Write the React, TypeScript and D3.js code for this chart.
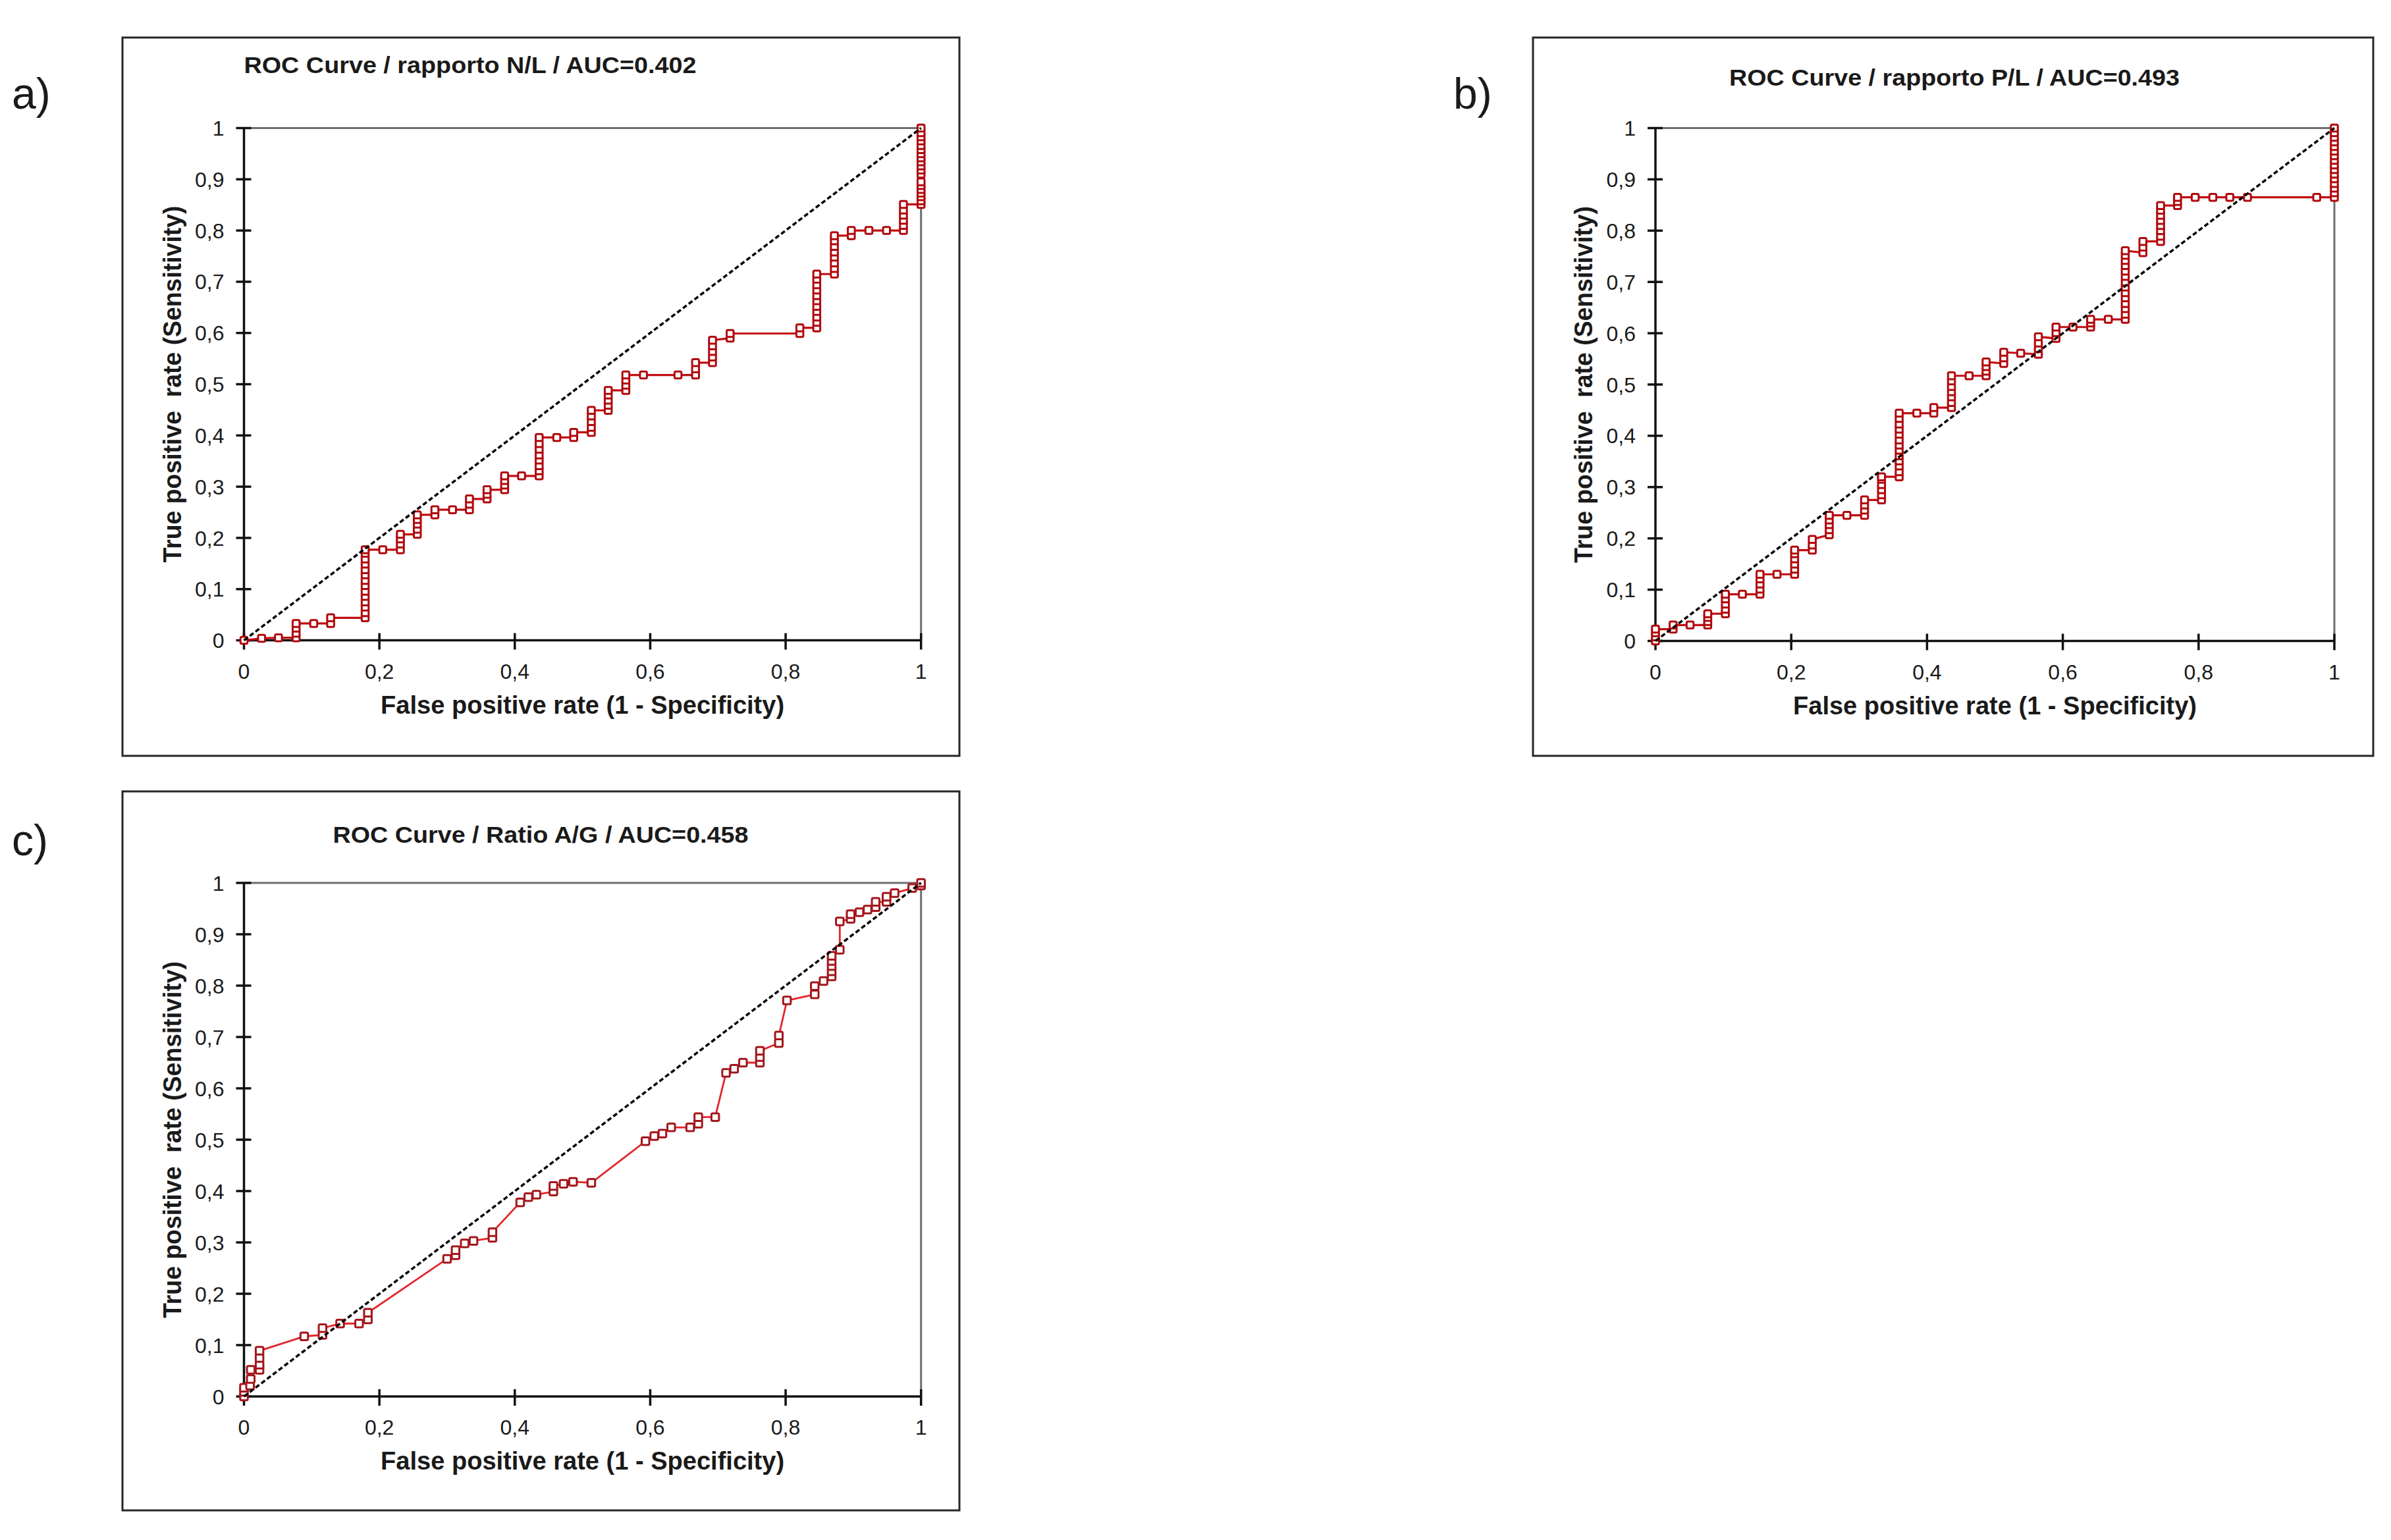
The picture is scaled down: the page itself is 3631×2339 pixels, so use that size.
import * as d3 from 'd3';

// ROC points: [false positive rate, true positive rate]
const rocNL: [number, number][] = [
  [0, 0], [0.026, 0.004], [0.051, 0.005],
  [0.077, 0.005], [0.077, 0.014], [0.077, 0.024], [0.077, 0.033],
  [0.103, 0.033],
  [0.128, 0.033], [0.128, 0.044],
  [0.179, 0.044], [0.179, 0.054], [0.179, 0.065], [0.179, 0.075], [0.179, 0.086], [0.179, 0.096], [0.179, 0.107],
  [0.179, 0.117], [0.179, 0.128], [0.179, 0.138], [0.179, 0.149], [0.179, 0.159], [0.179, 0.17], [0.179, 0.177],
  [0.205, 0.177],
  [0.231, 0.177], [0.231, 0.188], [0.231, 0.198], [0.231, 0.207],
  [0.256, 0.207], [0.256, 0.217], [0.256, 0.227], [0.256, 0.236], [0.256, 0.245],
  [0.282, 0.245], [0.282, 0.255],
  [0.308, 0.255],
  [0.333, 0.255], [0.333, 0.266], [0.333, 0.276],
  [0.359, 0.276], [0.359, 0.285], [0.359, 0.294],
  [0.385, 0.294], [0.385, 0.303], [0.385, 0.312], [0.385, 0.321],
  [0.41, 0.321],
  [0.436, 0.321], [0.436, 0.331], [0.436, 0.341], [0.436, 0.352], [0.436, 0.362], [0.436, 0.373], [0.436, 0.384], [0.436, 0.396],
  [0.462, 0.396],
  [0.487, 0.396], [0.487, 0.406],
  [0.513, 0.406], [0.513, 0.416], [0.513, 0.427], [0.513, 0.438], [0.513, 0.449],
  [0.538, 0.449], [0.538, 0.459], [0.538, 0.469], [0.538, 0.479], [0.538, 0.488],
  [0.564, 0.488], [0.564, 0.498], [0.564, 0.508], [0.564, 0.518],
  [0.59, 0.518],
  [0.641, 0.518],
  [0.667, 0.518], [0.667, 0.53], [0.667, 0.542],
  [0.692, 0.542], [0.692, 0.553], [0.692, 0.564], [0.692, 0.575], [0.692, 0.586],
  [0.718, 0.59], [0.718, 0.599],
  [0.821, 0.599], [0.821, 0.61],
  [0.846, 0.61], [0.846, 0.621], [0.846, 0.631], [0.846, 0.642], [0.846, 0.652], [0.846, 0.663], [0.846, 0.673],
  [0.846, 0.684], [0.846, 0.694], [0.846, 0.705], [0.846, 0.715],
  [0.872, 0.715], [0.872, 0.726], [0.872, 0.737], [0.872, 0.748], [0.872, 0.758], [0.872, 0.769], [0.872, 0.78], [0.872, 0.79],
  [0.897, 0.79], [0.897, 0.8],
  [0.923, 0.8],
  [0.949, 0.8],
  [0.974, 0.8], [0.974, 0.81], [0.974, 0.82], [0.974, 0.83], [0.974, 0.84], [0.974, 0.851],
  [1, 0.851], [1, 0.858], [1, 0.866], [1, 0.873], [1, 0.88], [1, 0.888], [1, 0.895],
  [1, 0.91], [1, 0.918], [1, 0.926], [1, 0.934], [1, 0.942], [1, 0.95], [1, 0.958], [1, 0.966], [1, 0.975], [1, 0.983], [1, 0.991], [1, 1],
];

const rocPL: [number, number][] = [
  [0, 0], [0, 0.008], [0, 0.016], [0, 0.023],
  [0.026, 0.023], [0.026, 0.031],
  [0.051, 0.031],
  [0.077, 0.031], [0.077, 0.038], [0.077, 0.046], [0.077, 0.053],
  [0.103, 0.053], [0.103, 0.062], [0.103, 0.072], [0.103, 0.082], [0.103, 0.091],
  [0.128, 0.091],
  [0.154, 0.091], [0.154, 0.101], [0.154, 0.111], [0.154, 0.121], [0.154, 0.13],
  [0.179, 0.13],
  [0.205, 0.13], [0.205, 0.14], [0.205, 0.15], [0.205, 0.16], [0.205, 0.17], [0.205, 0.177],
  [0.231, 0.177], [0.231, 0.187], [0.231, 0.198],
  [0.256, 0.207], [0.256, 0.217], [0.256, 0.227], [0.256, 0.236], [0.256, 0.245],
  [0.282, 0.245],
  [0.308, 0.245], [0.308, 0.255], [0.308, 0.265], [0.308, 0.275],
  [0.333, 0.275], [0.333, 0.285], [0.333, 0.295], [0.333, 0.305], [0.333, 0.315], [0.333, 0.32],
  [0.359, 0.32], [0.359, 0.33], [0.359, 0.341], [0.359, 0.351], [0.359, 0.361], [0.359, 0.372], [0.359, 0.382],
  [0.359, 0.392], [0.359, 0.403], [0.359, 0.413], [0.359, 0.423], [0.359, 0.434], [0.359, 0.444],
  [0.385, 0.444],
  [0.41, 0.444], [0.41, 0.455],
  [0.436, 0.455], [0.436, 0.465], [0.436, 0.476], [0.436, 0.486], [0.436, 0.496], [0.436, 0.507], [0.436, 0.517],
  [0.462, 0.517],
  [0.487, 0.517], [0.487, 0.526], [0.487, 0.535], [0.487, 0.544],
  [0.513, 0.541], [0.513, 0.552], [0.513, 0.563],
  [0.538, 0.561],
  [0.564, 0.559], [0.564, 0.57], [0.564, 0.581], [0.564, 0.593],
  [0.59, 0.59], [0.59, 0.601], [0.59, 0.612],
  [0.615, 0.612],
  [0.641, 0.612], [0.641, 0.62], [0.641, 0.627],
  [0.667, 0.627],
  [0.692, 0.627], [0.692, 0.637], [0.692, 0.648], [0.692, 0.658], [0.692, 0.669], [0.692, 0.679], [0.692, 0.69],
  [0.692, 0.7], [0.692, 0.711], [0.692, 0.721], [0.692, 0.732], [0.692, 0.742], [0.692, 0.752], [0.692, 0.761],
  [0.718, 0.757], [0.718, 0.768], [0.718, 0.779],
  [0.744, 0.779], [0.744, 0.789], [0.744, 0.8], [0.744, 0.81], [0.744, 0.82], [0.744, 0.83], [0.744, 0.84], [0.744, 0.849],
  [0.769, 0.849], [0.769, 0.857], [0.769, 0.865],
  [0.795, 0.865], [0.821, 0.865], [0.846, 0.865], [0.872, 0.865],
  [0.974, 0.865],
  [1, 0.865], [1, 0.874], [1, 0.883], [1, 0.892], [1, 0.901], [1, 0.91], [1, 0.919], [1, 0.928], [1, 0.937],
  [1, 0.946], [1, 0.955], [1, 0.964], [1, 0.973], [1, 0.982], [1, 0.991], [1, 1],
];

const rocAG: [number, number][] = [
  [0, 0], [0, 0.009], [0, 0.017],
  [0.009, 0.021], [0.01, 0.034], [0.01, 0.052],
  [0.023, 0.052], [0.023, 0.062], [0.023, 0.075], [0.023, 0.089],
  [0.089, 0.117],
  [0.116, 0.12], [0.116, 0.133],
  [0.142, 0.142],
  [0.17, 0.142],
  [0.183, 0.15], [0.183, 0.163],
  [0.3, 0.268],
  [0.3125, 0.275], [0.3125, 0.285],
  [0.326, 0.298], [0.339, 0.303],
  [0.367, 0.309], [0.367, 0.32],
  [0.408, 0.378], [0.42, 0.388], [0.432, 0.393],
  [0.457, 0.399], [0.457, 0.41],
  [0.472, 0.414], [0.486, 0.418], [0.513, 0.416],
  [0.593, 0.497], [0.606, 0.507], [0.618, 0.512], [0.631, 0.524],
  [0.659, 0.524], [0.671, 0.531], [0.671, 0.544],
  [0.696, 0.544],
  [0.712, 0.63], [0.724, 0.638], [0.737, 0.65],
  [0.762, 0.65], [0.762, 0.661], [0.762, 0.673],
  [0.79, 0.688], [0.79, 0.703],
  [0.802, 0.771],
  [0.843, 0.783], [0.843, 0.799],
  [0.856, 0.809],
  [0.868, 0.818], [0.868, 0.828], [0.868, 0.838], [0.868, 0.848], [0.868, 0.858],
  [0.88, 0.87], [0.88, 0.925],
  [0.896, 0.93], [0.896, 0.939],
  [0.909, 0.943],
  [0.921, 0.948], [0.933, 0.953], [0.933, 0.963],
  [0.949, 0.963], [0.949, 0.973],
  [0.961, 0.98],
  [0.987, 0.99],
  [1, 0.995], [1, 1],
];

const xTicks = [0, 0.2, 0.4, 0.6, 0.8, 1];
const yTicks = [0, 0.1, 0.2, 0.3, 0.4, 0.5, 0.6, 0.7, 0.8, 0.9, 1];
const xTitle = 'False positive rate (1 - Specificity)';
const yTitle = 'True positive  rate (Sensitivity)';

const FONT = "'Liberation Sans', Arial, sans-serif";

const fmtTick = (v: number) => String(+v.toFixed(1)).replace('.', ',');

interface Box { x0: number; x1: number; y0: number; y1: number }

interface PanelProps {
  letter: string;
  letterX: number;
  letterY: number;
  title: string;
  titleX: number;
  titleY: number;
  titleLen: number;
  frame: Box;
  plot: Box; // y0 = bottom (value 0), y1 = top (value 1)
  data: [number, number][];
  lineColor: string;
  lineWidth: number;
  markerSize: number;
  markerStroke: string;
}

function RocPanel(p: PanelProps) {
  const x = d3.scaleLinear().domain([0, 1]).range([p.plot.x0, p.plot.x1]);
  const y = d3.scaleLinear().domain([0, 1]).range([p.plot.y0, p.plot.y1]);
  const line = d3
    .line<[number, number]>()
    .x((d) => x(d[0]))
    .y((d) => y(d[1]));
  const ms = p.markerSize;
  const midX = (p.plot.x0 + p.plot.x1) / 2;
  const midY = (p.plot.y0 + p.plot.y1) / 2;

  return (
    <g fontFamily={FONT}>
      <rect
        x={p.frame.x0}
        y={p.frame.y0}
        width={p.frame.x1 - p.frame.x0}
        height={p.frame.y1 - p.frame.y0}
        fill="#fff"
        stroke="#262626"
        strokeWidth={3}
      />
      <text x={p.letterX} y={p.letterY} fontSize={66} fill="#1a1a1a">
        {p.letter}
      </text>
      <text
        x={p.titleX}
        y={p.titleY}
        textAnchor="middle"
        fontSize={35}
        fontWeight="bold"
        fill="#1a1a1a"
        textLength={p.titleLen}
        lengthAdjust="spacingAndGlyphs"
      >
        {p.title}
      </text>

      {/* top / right border of plot area */}
      <line x1={x(0)} x2={x(1)} y1={y(1)} y2={y(1)} stroke="#6e6e6e" strokeWidth={3} />
      <line x1={x(1)} x2={x(1)} y1={y(0)} y2={y(1)} stroke="#6e6e6e" strokeWidth={3} />

      {/* axes */}
      <line x1={x(0)} x2={x(1)} y1={y(0)} y2={y(0)} stroke="#111" strokeWidth={3.5} />
      <line x1={x(0)} x2={x(0)} y1={y(0)} y2={y(1)} stroke="#111" strokeWidth={3.5} />
      {xTicks.map((t) => (
        <g key={'x' + t}>
          <line x1={x(t)} x2={x(t)} y1={y(0) - 11} y2={y(0) + 14} stroke="#111" strokeWidth={3.5} />
          <text x={x(t)} y={y(0) + 58} textAnchor="middle" fontSize={32} fill="#1a1a1a">
            {fmtTick(t)}
          </text>
        </g>
      ))}
      {yTicks.map((t) => (
        <g key={'y' + t}>
          <line x1={x(0) - 12} x2={x(0) + 11} y1={y(t)} y2={y(t)} stroke="#111" strokeWidth={3.5} />
          <text x={x(0) - 30} y={y(t)} dy="0.36em" textAnchor="end" fontSize={32} fill="#1a1a1a">
            {fmtTick(t)}
          </text>
        </g>
      ))}

      <text
        x={midX}
        y={y(0) + 111}
        textAnchor="middle"
        fontSize={38}
        fontWeight="bold"
        fill="#1a1a1a"
        textLength={613}
        lengthAdjust="spacingAndGlyphs"
      >
        {xTitle}
      </text>
      <text
        transform={`translate(${x(0) - 96},${midY}) rotate(-90)`}
        textAnchor="middle"
        fontSize={38}
        fontWeight="bold"
        fill="#1a1a1a"
        textLength={542}
        lengthAdjust="spacingAndGlyphs"
        style={{ whiteSpace: 'pre' }}
      >
        {yTitle}
      </text>

      {/* ROC curve */}
      <path d={line(p.data) ?? ''} fill="none" stroke={p.lineColor} strokeWidth={p.lineWidth} />
      {p.data.map((d, i) => (
        <rect
          key={i}
          x={x(d[0]) - ms / 2}
          y={y(d[1]) - ms / 2}
          width={ms}
          height={ms}
          rx={2}
          fill="#fff"
          stroke={p.markerStroke}
          strokeWidth={3}
        />
      ))}

      {/* chance diagonal */}
      <line
        x1={x(0)}
        y1={y(0)}
        x2={x(1)}
        y2={y(1)}
        stroke="#000"
        strokeWidth={3.5}
        strokeDasharray="7,4"
      />
    </g>
  );
}

export default function App() {
  return (
    <div style={{ position: 'absolute', left: 0, top: 0 }}>
      <svg width={3631} height={2339} viewBox="0 0 3631 2339" style={{ display: 'block', background: '#fff' }}>
        <RocPanel
          letter="a)"
          letterX={18}
          letterY={165}
          title="ROC Curve / rapporto N/L / AUC=0.402"
          titleX={714}
          titleY={111}
          titleLen={687}
          frame={{ x0: 186, y0: 57, x1: 1457, y1: 1148 }}
          plot={{ x0: 370.5, x1: 1398.7, y0: 972.6, y1: 194.5 }}
          data={rocNL}
          lineColor="#c00d12"
          lineWidth={3.2}
          markerSize={10.5}
          markerStroke="#b0080c"
        />
        <RocPanel
          letter="b)"
          letterX={2207}
          letterY={165}
          title="ROC Curve / rapporto P/L / AUC=0.493"
          titleX={2968}
          titleY={130}
          titleLen={684}
          frame={{ x0: 2328, y0: 57, x1: 3604, y1: 1148 }}
          plot={{ x0: 2514, x1: 3545, y0: 973.5, y1: 194.5 }}
          data={rocPL}
          lineColor="#c00d12"
          lineWidth={3.2}
          markerSize={10.5}
          markerStroke="#b0080c"
        />
        <RocPanel
          letter="c)"
          letterX={18}
          letterY={1299}
          title="ROC Curve / Ratio A/G / AUC=0.458"
          titleX={821}
          titleY={1280}
          titleLen={631}
          frame={{ x0: 186, y0: 1202, x1: 1457, y1: 2294 }}
          plot={{ x0: 370.5, x1: 1398.7, y0: 2121, y1: 1341 }}
          data={rocAG}
          lineColor="#e2262b"
          lineWidth={2.8}
          markerSize={11.5}
          markerStroke="#a3161b"
        />
      </svg>
    </div>
  );
}
